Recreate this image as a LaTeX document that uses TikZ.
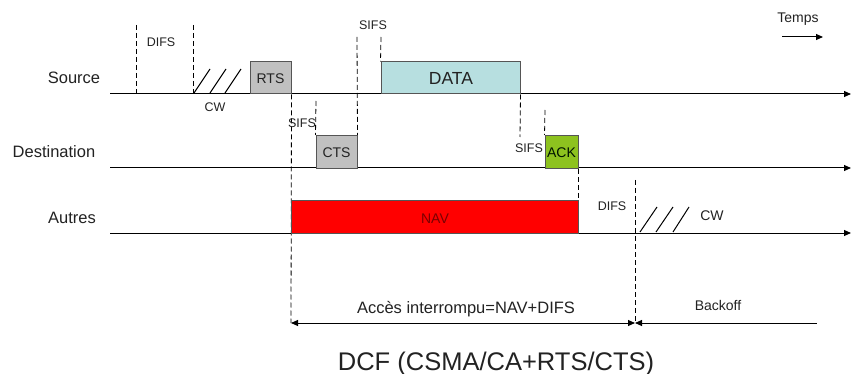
\documentclass[tikz,border=0pt]{standalone}
\usepackage{fontspec}
\setmainfont{Liberation Sans}
\usetikzlibrary{arrows.meta}
\definecolor{txt}{HTML}{222222}
\definecolor{boxline}{HTML}{555555}
\definecolor{rtsgray}{HTML}{C0C0C0}
\definecolor{datacyan}{HTML}{B7DFE0}
\definecolor{ackgreen}{HTML}{8DC21F}
\definecolor{navred}{HTML}{FF0000}
\definecolor{navtxt}{HTML}{7A0000}
\tikzset{
  timeline/.style={line width=1pt, -{Triangle[length=7pt,width=6pt]}},
  dline/.style={line width=0.8pt, dash pattern=on 5pt off 3pt},
  hatch/.style={line width=1pt},
  pkt/.style={draw=boxline, line width=1pt, inner sep=0pt},
  lbl/.style={anchor=base, inner sep=0pt, text=txt, font=\fontsize{16.5}{18}\selectfont},
  sml/.style={anchor=base, inner sep=0pt, text=txt, font=\fontsize{12.5}{14}\selectfont},
  mid/.style={anchor=base, inner sep=0pt, text=txt, font=\fontsize{14}{16}\selectfont},
  dim/.style={line width=1pt},
  tipL/.style={{Triangle[length=7pt,width=6pt]}-},
  tipR/.style={-{Triangle[length=7pt,width=6pt]}},
  tipLR/.style={{Triangle[length=7pt,width=6pt]}-{Triangle[length=7pt,width=6pt]}},
}
\begin{document}
\begin{tikzpicture}[x=1pt,y=-1pt]
\useasboundingbox (0,0) rectangle (851,374);

% timelines
\coordinate (s0) at (110,94);  \coordinate (s1) at (851,94);
\coordinate (d0) at (110,168); \coordinate (d1) at (851,168);
\coordinate (a0) at (110,233); \coordinate (a1) at (851,233);
\draw[timeline] (s0) -- (s1);
\draw[timeline] (d0) -- (d1);
\draw[timeline] (a0) -- (a1);

% row labels
\node[lbl] (src) at (74,83.5) {Source};
\node[lbl] (dst) at (54,157.3) {Destination};
\node[lbl] (oth) at (72,223.3) {Autres};

% coordinates for dashed markers
\coordinate (p1a) at (136,25); \coordinate (p1b) at (136,94);
\coordinate (p2a) at (193,25); \coordinate (p2b) at (193,94);
\coordinate (accl) at (291,323);
\coordinate (p4a) at (316,101);
\coordinate (p5a) at (357,37);
\coordinate (p6a) at (381,37);
\coordinate (p7b) at (520,137);
\coordinate (p8a) at (545,110);
\coordinate (p9a) at (635,180);
\coordinate (accr) at (635,323);
\coordinate (bkr) at (817,323);

% packets
\node[pkt, fill=rtsgray, minimum width=41pt, minimum height=32pt] (rts) at (270.5,78) {};
\node[pkt, fill=datacyan, minimum width=139pt, minimum height=32pt] (data) at (450.5,78) {};
\node[pkt, fill=rtsgray, minimum width=41pt, minimum height=33pt] (cts) at (336.5,152) {};
\node[pkt, fill=ackgreen, minimum width=33pt, minimum height=33pt] (ack) at (561.5,152) {};

% dashed markers
\draw[dline] (p1a) -- (p1b);
\draw[dline] (p2a) -- (p2b);
\draw[dline] (rts.south east) -- (accl);
\draw[dline] (p4a) -- (cts.north west);
\draw[dline] (p5a) -- (cts.north east);
\draw[dline] (p6a) -- (data.north west);
\draw[dline] (data.south east) -- (p7b);
\draw[dline] (p8a) -- (ack.north west);
\draw[dline] (p9a) -- (accr);

\node[pkt, fill=navred, minimum width=287pt, minimum height=32pt] (nav) at (434.5,217) {};
\draw[dline] (ack.south east) -- (nav.north east);

% packet texts
\node[mid] (trts) at (270.5,84) {RTS};
\node[anchor=base, inner sep=0pt, text=txt, font=\fontsize{17.5}{20}\selectfont] (tdata) at (451,85) {DATA};
\node[mid] (tcts) at (336.5,157.3) {CTS};
\node[mid, text=black!80!green!40!black] (tack) at (561.5,157.3) {ACK};
\node[mid, text=navtxt] (tnav) at (435,223.3) {NAV};

% hatches (contention window)
\coordinate (h1a) at (194,93); \coordinate (h1b) at (210,69);
\coordinate (h2a) at (210,93); \coordinate (h2b) at (226,69);
\coordinate (h3a) at (225,93); \coordinate (h3b) at (241,69);
\draw[hatch] (h1a) -- (h1b);
\draw[hatch] (h2a) -- (h2b);
\draw[hatch] (h3a) -- (h3b);
\coordinate (k1a) at (640,232); \coordinate (k1b) at (657,207);
\coordinate (k2a) at (656,232); \coordinate (k2b) at (673,207);
\coordinate (k3a) at (673,232); \coordinate (k3b) at (689,207);
\draw[hatch] (k1a) -- (k1b);
\draw[hatch] (k2a) -- (k2b);
\draw[hatch] (k3a) -- (k3b);

% small labels
\node[sml] (difs1) at (161,46.5) {DIFS};
\node[sml] (cw1) at (215,111.7) {CW};
\node[sml] (sifs1) at (373,29.3) {SIFS};
\node[sml] (sifs2) at (302,128) {SIFS};
\node[sml] (sifs3) at (529,152.3) {SIFS};
\node[sml] (difs2) at (612,210.7) {DIFS};
\node[mid] (cw2) at (712,221) {CW};

% time arrow
\coordinate (t0) at (782,37); \coordinate (t1) at (823,37);
\node[mid] (temps) at (798,22.5) {Temps};
\draw[dim, tipR] (t0) -- (t1);

% bottom dimension arrows
\draw[dim, tipLR] (accl) -- (accr);
\draw[dim, tipL] (accr) -- (bkr);
\node[lbl] (acces) at (466,313.3) {Accès interrompu=NAV+DIFS};
\node[mid] (backoff) at (718,310.7) {Backoff};

% title
\node[anchor=base, inner sep=0pt, text=txt, font=\fontsize{25.5}{28}\selectfont] (title) at (496,370) {DCF (CSMA/CA+RTS/CTS)};
\end{tikzpicture}
\end{document}
